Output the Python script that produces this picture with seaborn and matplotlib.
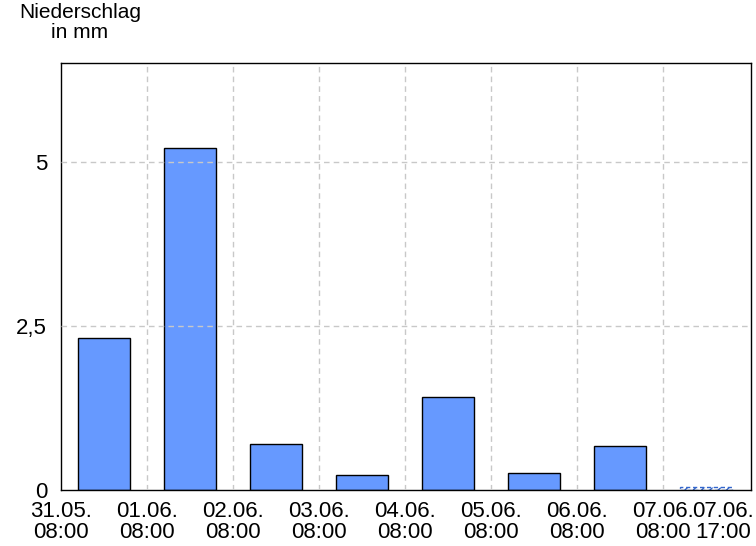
import matplotlib
matplotlib.use("Agg")
import matplotlib.pyplot as plt
import seaborn as sns
import pandas as pd
import numpy as np

# data
day_labels = ["31.05.\n08:00", "01.06.\n08:00", "02.06.\n08:00", "03.06.\n08:00",
              "04.06.\n08:00", "05.06.\n08:00", "06.06.\n08:00", "07.06.\n08:00"]
extra_label = "07.06.\n17:00"
bar_pos = [0.5, 1.5, 2.5, 3.5, 4.5, 5.5, 6.5, 7.5]
precip = [2.32, 5.21, 0.70, 0.23, 1.42, 0.26, 0.67, 0.04]
ytick_vals = [0, 2.5, 5]
ytick_labels = ["0", "2,5", "5"]

sns.set_style("white", {"text.color": "black", "xtick.color": "black",
                        "ytick.color": "black", "axes.labelcolor": "black"})
plt.rcParams['font.family'] = ['Liberation Sans', 'DejaVu Sans']

fig = plt.figure(figsize=(7.56, 5.46), dpi=100)
ax = fig.add_axes([61/756, 1-490/546, 690/756, (490-63)/546])

df = pd.DataFrame({"x": bar_pos, "y": precip})
sns.barplot(data=df, x="x", y="y", native_scale=True, width=0.6,
            color="#6699FF", saturation=1, edgecolor="black", linewidth=1,
            ax=ax, zorder=1)

# last (incomplete) bar styled hatched
last = ax.patches[-1]
last.set_facecolor("white")
last.set_edgecolor("#3366CC")
last.set_hatch("////")
last.set_linestyle((0, (3, 2)))

ax.set_xlim(0, 8.02)
ax.set_ylim(0, 6.5)

xt = list(range(8)) + [7.7]
ax.set_xticks(xt)
ax.set_xticklabels(day_labels + [extra_label], fontsize=16, linespacing=1.0,
                   color="black")
ax.set_yticks(ytick_vals)
ax.set_yticklabels(ytick_labels, fontsize=16, color="black")
ax.set_xlabel("")
ax.set_ylabel("")

ax.tick_params(axis="x", direction="out", length=5, width=1, color="black",
               labelcolor="black", pad=3)
ax.tick_params(axis="y", direction="out", length=4, width=1, color="black",
               labelcolor="black", pad=6)
for lbl in ax.get_yticklabels():
    lbl.set_verticalalignment("center_baseline")

ax.set_axisbelow(False)
ax.grid(True, color="#c8c8c8", linestyle=(0, (4, 3)), linewidth=1)

# hide tick mark and gridline of extra tick and gridlines on edges
ticks = ax.xaxis.get_major_ticks()
ticks[-1].tick1line.set_visible(False)
ticks[-1].gridline.set_visible(False)
ticks[0].gridline.set_visible(False)
ax.yaxis.get_major_ticks()[0].gridline.set_visible(False)

for s in ax.spines.values():
    s.set_visible(True)
    s.set_color("black")
    s.set_linewidth(1)

fig.text(80/756, 1-3/546, "Niederschlag\nin mm", ha="center", va="top",
         fontsize=15, linespacing=1.05, color="black")

fig.savefig("out.png", dpi=100)
